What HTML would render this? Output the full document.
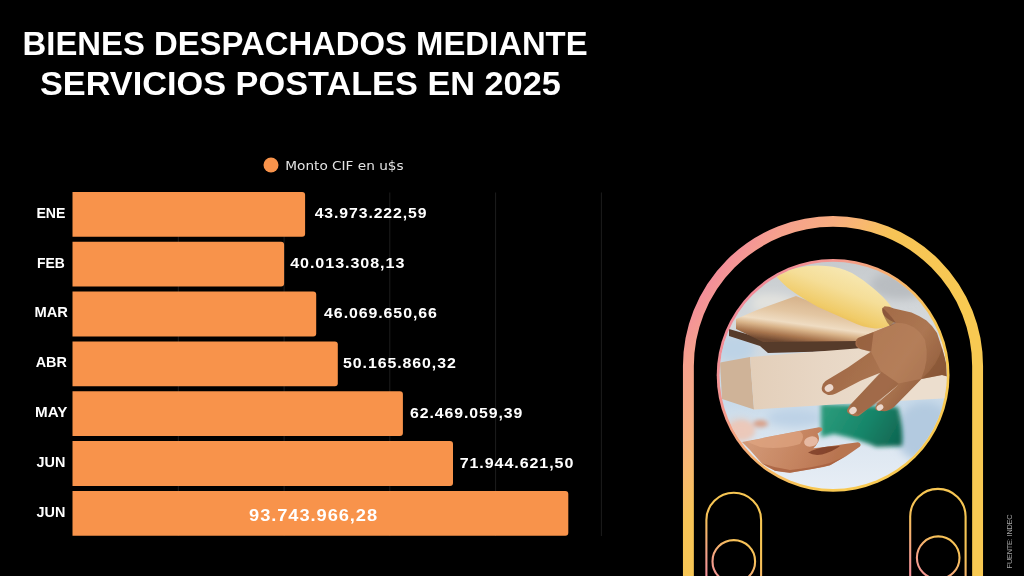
<!DOCTYPE html>
<html lang="es"><head><meta charset="utf-8"><title>Bienes despachados mediante servicios postales en 2025</title>
<style>
html,body{margin:0;padding:0;background:#000;}
body{width:1024px;height:576px;overflow:hidden;font-family:"Liberation Sans",sans-serif;}
svg{display:block}
.t{font-family:"Liberation Sans",sans-serif;font-weight:700;fill:#fff}
.l{font-family:"Liberation Sans",sans-serif;font-weight:700;fill:#fff;font-size:14.4px}
.v{font-family:"Liberation Sans",sans-serif;font-weight:700;fill:#fff;font-size:13.8px;letter-spacing:0.8px}
.lg{font-family:"DejaVu Sans","Liberation Sans",sans-serif;fill:#e4e4e4;font-size:13px}
.src{font-family:"Liberation Sans",sans-serif;font-weight:400;fill:#a2a2a2;font-size:7.3px}
</style></head><body>
<svg width="1024" height="576" viewBox="0 0 1024 576">
<rect width="1024" height="576" fill="#000"/>
<!--TITLE-->
<text class="t" x="22.6" y="55.4" font-size="33.4" textLength="565" lengthAdjust="spacingAndGlyphs">BIENES DESPACHADOS MEDIANTE</text>
<text class="t" x="40" y="95.1" font-size="33.4" textLength="520.8" lengthAdjust="spacingAndGlyphs">SERVICIOS POSTALES EN 2025</text>
<!--LEGEND-->
<circle cx="271" cy="165" r="7.5" fill="#f8934b"/>
<text class="lg" x="285.3" y="169.9" textLength="118.3" lengthAdjust="spacingAndGlyphs">Monto CIF en u$s</text>
<!--GRID-->
<g stroke="#1d1d1d" stroke-width="1">
<line x1="178.3" y1="192.5" x2="178.3" y2="536"/>
<line x1="284.1" y1="192.5" x2="284.1" y2="536"/>
<line x1="389.8" y1="192.5" x2="389.8" y2="536"/>
<line x1="495.6" y1="192.5" x2="495.6" y2="536"/>
<line x1="601.4" y1="192.5" x2="601.4" y2="536"/>
</g>
<!--BARS-->
<g fill="#f8934b">
<path d="M72.5 192.0h229.6a3 3 0 0 1 3 3v38.8a3 3 0 0 1 -3 3h-229.6z"/>
<path d="M72.5 241.8h208.6a3 3 0 0 1 3 3v38.8a3 3 0 0 1 -3 3h-208.6z"/>
<path d="M72.5 291.6h240.7a3 3 0 0 1 3 3v38.8a3 3 0 0 1 -3 3h-240.7z"/>
<path d="M72.5 341.5h262.3a3 3 0 0 1 3 3v38.8a3 3 0 0 1 -3 3h-262.3z"/>
<path d="M72.5 391.3h327.4a3 3 0 0 1 3 3v38.8a3 3 0 0 1 -3 3h-327.4z"/>
<path d="M72.5 441.1h377.5a3 3 0 0 1 3 3v38.8a3 3 0 0 1 -3 3h-377.5z"/>
<path d="M72.5 490.9h492.8a3 3 0 0 1 3 3v38.8a3 3 0 0 1 -3 3h-492.8z"/>
</g>
<!--LABELS-->
<text class="l" x="36.4" y="217.8" textLength="29.0" lengthAdjust="spacingAndGlyphs">ENE</text>
<text class="v" x="314.7" y="218.4" textLength="112.7" lengthAdjust="spacingAndGlyphs">43.973.222,59</text>
<text class="l" x="37.0" y="267.6" textLength="27.8" lengthAdjust="spacingAndGlyphs">FEB</text>
<text class="v" x="290.2" y="268.2" textLength="115.1" lengthAdjust="spacingAndGlyphs">40.013.308,13</text>
<text class="l" x="34.5" y="317.4" textLength="33.5" lengthAdjust="spacingAndGlyphs">MAR</text>
<text class="v" x="324.1" y="318.0" textLength="113.7" lengthAdjust="spacingAndGlyphs">46.069.650,66</text>
<text class="l" x="35.7" y="367.3" textLength="31.2" lengthAdjust="spacingAndGlyphs">ABR</text>
<text class="v" x="343.1" y="367.9" textLength="113.6" lengthAdjust="spacingAndGlyphs">50.165.860,32</text>
<text class="l" x="35.0" y="417.1" textLength="32.4" lengthAdjust="spacingAndGlyphs">MAY</text>
<text class="v" x="410.1" y="417.7" textLength="113.2" lengthAdjust="spacingAndGlyphs">62.469.059,39</text>
<text class="l" x="36.6" y="466.9" textLength="28.8" lengthAdjust="spacingAndGlyphs">JUN</text>
<text class="v" x="459.7" y="467.5" textLength="114.6" lengthAdjust="spacingAndGlyphs">71.944.621,50</text>
<text class="l" x="36.6" y="516.7" textLength="28.8" lengthAdjust="spacingAndGlyphs">JUN</text>
<text class="v" x="249.1" y="520.9" style="font-size:15.8px" textLength="128.9" lengthAdjust="spacingAndGlyphs">93.743.966,28</text>
<!--ART-->
<defs>
<linearGradient id="ga" gradientUnits="userSpaceOnUse" x1="690" y1="250" x2="900" y2="400">
<stop offset="0" stop-color="#f2889e"/><stop offset="0.12" stop-color="#f38c9b"/><stop offset="0.235" stop-color="#f5a08e"/><stop offset="0.39" stop-color="#f7ad80"/><stop offset="0.485" stop-color="#f8b870"/><stop offset="0.6" stop-color="#f7c456"/><stop offset="1" stop-color="#f8c952"/>
</linearGradient>
<linearGradient id="gpa" gradientUnits="userSpaceOnUse" x1="704" y1="580" x2="748" y2="528">
<stop offset="0" stop-color="#f28c9c"/><stop offset="0.3" stop-color="#f4a08a"/><stop offset="0.7" stop-color="#f7c05a"/><stop offset="1" stop-color="#f7c653"/>
</linearGradient>
<linearGradient id="gpb" gradientUnits="userSpaceOnUse" x1="908" y1="578" x2="952" y2="524">
<stop offset="0" stop-color="#f28c9c"/><stop offset="0.3" stop-color="#f4a08a"/><stop offset="0.7" stop-color="#f7c05a"/><stop offset="1" stop-color="#f7c653"/>
</linearGradient>
<linearGradient id="gr" gradientUnits="userSpaceOnUse" x1="730" y1="290" x2="900" y2="420">
<stop offset="0" stop-color="#f0869c"/><stop offset="0.3" stop-color="#f3968f"/><stop offset="0.6" stop-color="#f7b56c"/><stop offset="0.85" stop-color="#f7c653"/><stop offset="1" stop-color="#f8c952"/>
</linearGradient>
<linearGradient id="bg" x1="0" y1="0" x2="0" y2="1">
<stop offset="0" stop-color="#c4c8cb"/><stop offset="0.3" stop-color="#d6dadd"/><stop offset="0.62" stop-color="#c9dbea"/><stop offset="0.8" stop-color="#dde7f1"/><stop offset="1" stop-color="#e9eff6"/>
</linearGradient>
<linearGradient id="cush" gradientUnits="userSpaceOnUse" x1="838" y1="262" x2="816" y2="320">
<stop offset="0" stop-color="#f7e9b6"/><stop offset="0.4" stop-color="#f5de98"/><stop offset="0.75" stop-color="#f0cb68"/><stop offset="1" stop-color="#e6b144"/>
</linearGradient>
<linearGradient id="kraft" gradientUnits="userSpaceOnUse" x1="790" y1="298" x2="784" y2="342">
<stop offset="0" stop-color="#d8b58e"/><stop offset="0.3" stop-color="#e3c6a2"/><stop offset="0.55" stop-color="#efdcc2"/><stop offset="0.68" stop-color="#d9b48a"/><stop offset="0.85" stop-color="#a8754e"/><stop offset="1" stop-color="#6e4830"/>
</linearGradient>
<linearGradient id="boxf" gradientUnits="userSpaceOnUse" x1="752" y1="0" x2="900" y2="0">
<stop offset="0" stop-color="#e3cfba"/><stop offset="0.5" stop-color="#e8d7c5"/><stop offset="1" stop-color="#ecdece"/>
</linearGradient>
<linearGradient id="green" gradientUnits="userSpaceOnUse" x1="830" y1="405" x2="900" y2="446">
<stop offset="0" stop-color="#2a9a7a"/><stop offset="0.5" stop-color="#17866a"/><stop offset="1" stop-color="#0f6450"/>
</linearGradient>
<linearGradient id="hand1" gradientUnits="userSpaceOnUse" x1="850" y1="330" x2="950" y2="400">
<stop offset="0" stop-color="#a06845"/><stop offset="0.5" stop-color="#ac7652"/><stop offset="1" stop-color="#845030"/>
</linearGradient>
<linearGradient id="hand2" gradientUnits="userSpaceOnUse" x1="750" y1="430" x2="830" y2="470">
<stop offset="0" stop-color="#d39a78"/><stop offset="0.6" stop-color="#c58460"/><stop offset="1" stop-color="#b87450"/>
</linearGradient>
<filter id="b1" x="-10%" y="-10%" width="120%" height="120%"><feGaussianBlur stdDeviation="0.7"/></filter>
<filter id="b2" x="-20%" y="-20%" width="140%" height="140%"><feGaussianBlur stdDeviation="2"/></filter>
<filter id="b4" x="-30%" y="-30%" width="160%" height="160%"><feGaussianBlur stdDeviation="4"/></filter>
<clipPath id="cc"><circle cx="833.1" cy="375.3" r="113.6"/></clipPath>
</defs>
<path d="M688.4 580V366a144.6 144.6 0 0 1 289.2 0V580" fill="none" stroke="url(#ga)" stroke-width="10.9"/>
<g fill="none" stroke-width="2.1">
<rect x="706.4" y="492.7" width="54.7" height="130" rx="27.35" stroke="url(#gpa)"/>
<circle cx="733.8" cy="561.4" r="21.3" stroke="url(#gpa)"/>
<rect x="910.2" y="488.9" width="55.4" height="130" rx="27.7" stroke="url(#gpb)"/>
<circle cx="938.2" cy="557.7" r="21.3" stroke="url(#gpb)"/>
</g>
<circle cx="833.1" cy="375.3" r="116.4" fill="url(#gr)"/>
<g clip-path="url(#cc)">
<rect x="712" y="252" width="244" height="244" fill="url(#bg)"/>
<!-- blurred background patches -->
<g filter="url(#b4)">
<ellipse cx="735" cy="348" rx="20" ry="14" fill="#bdd3e6"/>
<ellipse cx="925" cy="432" rx="30" ry="30" fill="#b3cae0"/>
<ellipse cx="795" cy="418" rx="28" ry="9" fill="#bdd2e6"/>
<ellipse cx="740" cy="430" rx="14" ry="10" fill="#e8c4b4"/>
<ellipse cx="770" cy="303" rx="26" ry="9" fill="#e2e2de"/>
<ellipse cx="740" cy="300" rx="14" ry="12" fill="#cfd6da"/>
<ellipse cx="900" cy="285" rx="30" ry="14" fill="#b9bdc1"/>
</g>
<!-- kraft package: cream top, tan side, dark shadow -->
<g filter="url(#b1)">
<path d="M729 329 L764 339 L858 337 L872 340 L872 352 L858 350.5 L768 353 L760 346 L729 336Z" fill="#573a2a"/>
<path d="M736 319 L757 310 L796 296 L834 311 L886 328 L874 337 L858 341 L763 342 L736 329Z" fill="url(#kraft)"/>
<!-- cushion -->
<path d="M775.5 275.5 Q784 270 797 268 Q812 264.500 826 266 Q840 267 852 273 Q864 280 873 288 Q884 297 890 305 Q896 314 894 322 Q888 329 875 328.500 Q862 327 852 322 L818 307 Q800 297 788 288 Q780 281 775.5 275.5Z" fill="url(#cush)"/>
</g>
<!-- green -->
<g filter="url(#b2)">
<path d="M821 404 L898 407 Q904 430 902 446 L876 447 Q862 440 834 434 L821 437Z" fill="url(#green)"/>
</g>
<!-- box -->
<path d="M720 362.500 L750 357 L754 409.500 L722 399Z" fill="#cfb398"/>
<path d="M750 357 L950 341 L950 398 L834 404.500 L754 409.500Z" fill="url(#boxf)"/>
<!-- right hand -->
<g filter="url(#b1)">
<path d="M884.500 306.300 Q889 306.300 894 308.500 L911.500 312.500 Q920 316 926.500 320.500 Q933 326 937 333 L942 348 L947 366 L960 366 L960 380 L942 375 L921.500 379 L894 407 Q888 412 882 411 Q874 411 875.500 407 L877 403.500 L899 384.500 L859 415.700 Q855 417 851.500 415 Q845.500 412.500 847.500 409 L850 405 L881 372.500 L861 380.500 L836 393.500 Q830 396 827 394.500 Q820.500 391.500 822 387 Q822.500 383.500 825.500 381 L848 367.500 L871 351.500 L860.500 349 Q855 347 855.500 343.500 Q855 340 858 338 L873.500 332 L896 323 Q888 320 884 315.500 Q880 309 884.500 306.300Z" fill="url(#hand1)"/>
<path d="M896 323 Q915 322 925 340 Q930 360 921 379 L898.500 383.500 L881 371.500 L871 352 L873.500 332Z" fill="#bb8560" opacity="0.55"/>
<path d="M881 371.500 L898.500 383.500 L877 403.500 L858 414.700 L850.500 405.500Z" fill="#94603e" opacity="0.45"/>
<path d="M921.500 379 L942 375 L960 380 L960 366 L947 366 L942 348 Q938 365 921.500 379Z" fill="#80502f" opacity="0.5"/>
<path d="M858 338 L873.500 332 L871 352 L860.500 349 Q855 345 858 338Z" fill="#8e5a3a" opacity="0.5"/>
<path d="M882 307.500 Q888 312 896 323 L890 326 Q883 318 882 307.500Z" fill="#7a4a30" opacity="0.6"/>
<ellipse cx="829" cy="388" rx="4.500" ry="3.600" fill="#ecd8cc" transform="rotate(-30 829 388)"/>
<ellipse cx="853" cy="410.500" rx="4" ry="3.200" fill="#ecd8cc" transform="rotate(-40 853 410.500)"/>
<ellipse cx="880" cy="407.500" rx="3.600" ry="2.800" fill="#ecd8cc" transform="rotate(-35 880 407.500)"/>
</g>
<!-- lower hand -->
<g filter="url(#b1)">
<path d="M742 442 Q750 440.500 776.700 435.300 L800 430.800 L819 427.300 Q823.500 427.500 822 430.500 L817.500 433.500 Q820 438 818.300 441.700 Q816 446 813.300 448.300 L826.700 446.700 L846.700 443.700 L858 442.300 Q862 443.500 860 446.500 L846.700 455.800 L830 465.300 Q822 468 813.300 468.700 L790 472.800 Q782 472.500 775 470.800 Q767 467.500 761.700 463.300 L750 450Z" fill="url(#hand2)"/>
<path d="M746.700 441.700 L776.700 435.300 L800 431 Q806 436 800 444 Q780 450 760 447Z" fill="#dfa582" opacity="0.7"/>
<path d="M808 452.500 Q818 447.500 828 446.600 L840 446 Q834 451 822 454.500 Q814 456 808 452.500Z" fill="#7c3c26" opacity="0.85"/>
<path d="M761.700 463.300 Q775 468 790 470 Q812 468 830 463 L846.700 455.800 L830 465.300 L813.300 468.700 L790 472.800 L775 470.800Z" fill="#a86040" opacity="0.8"/>
<ellipse cx="811" cy="441.500" rx="7" ry="5" fill="#e6b9a2" transform="rotate(-15 811 441.500)"/>
</g>
<g filter="url(#b2)">
<ellipse cx="760.500" cy="423.700" rx="7.500" ry="3.600" fill="#d9a088"/>
<ellipse cx="742" cy="430" rx="12" ry="9" fill="#ecc9ba" opacity="0.9"/>
</g>
</g>

<text class="src" transform="translate(1012.3 568.4) rotate(-90)" textLength="54" lengthAdjust="spacing">FUENTE: INDEC</text>
</svg>
</body></html>
